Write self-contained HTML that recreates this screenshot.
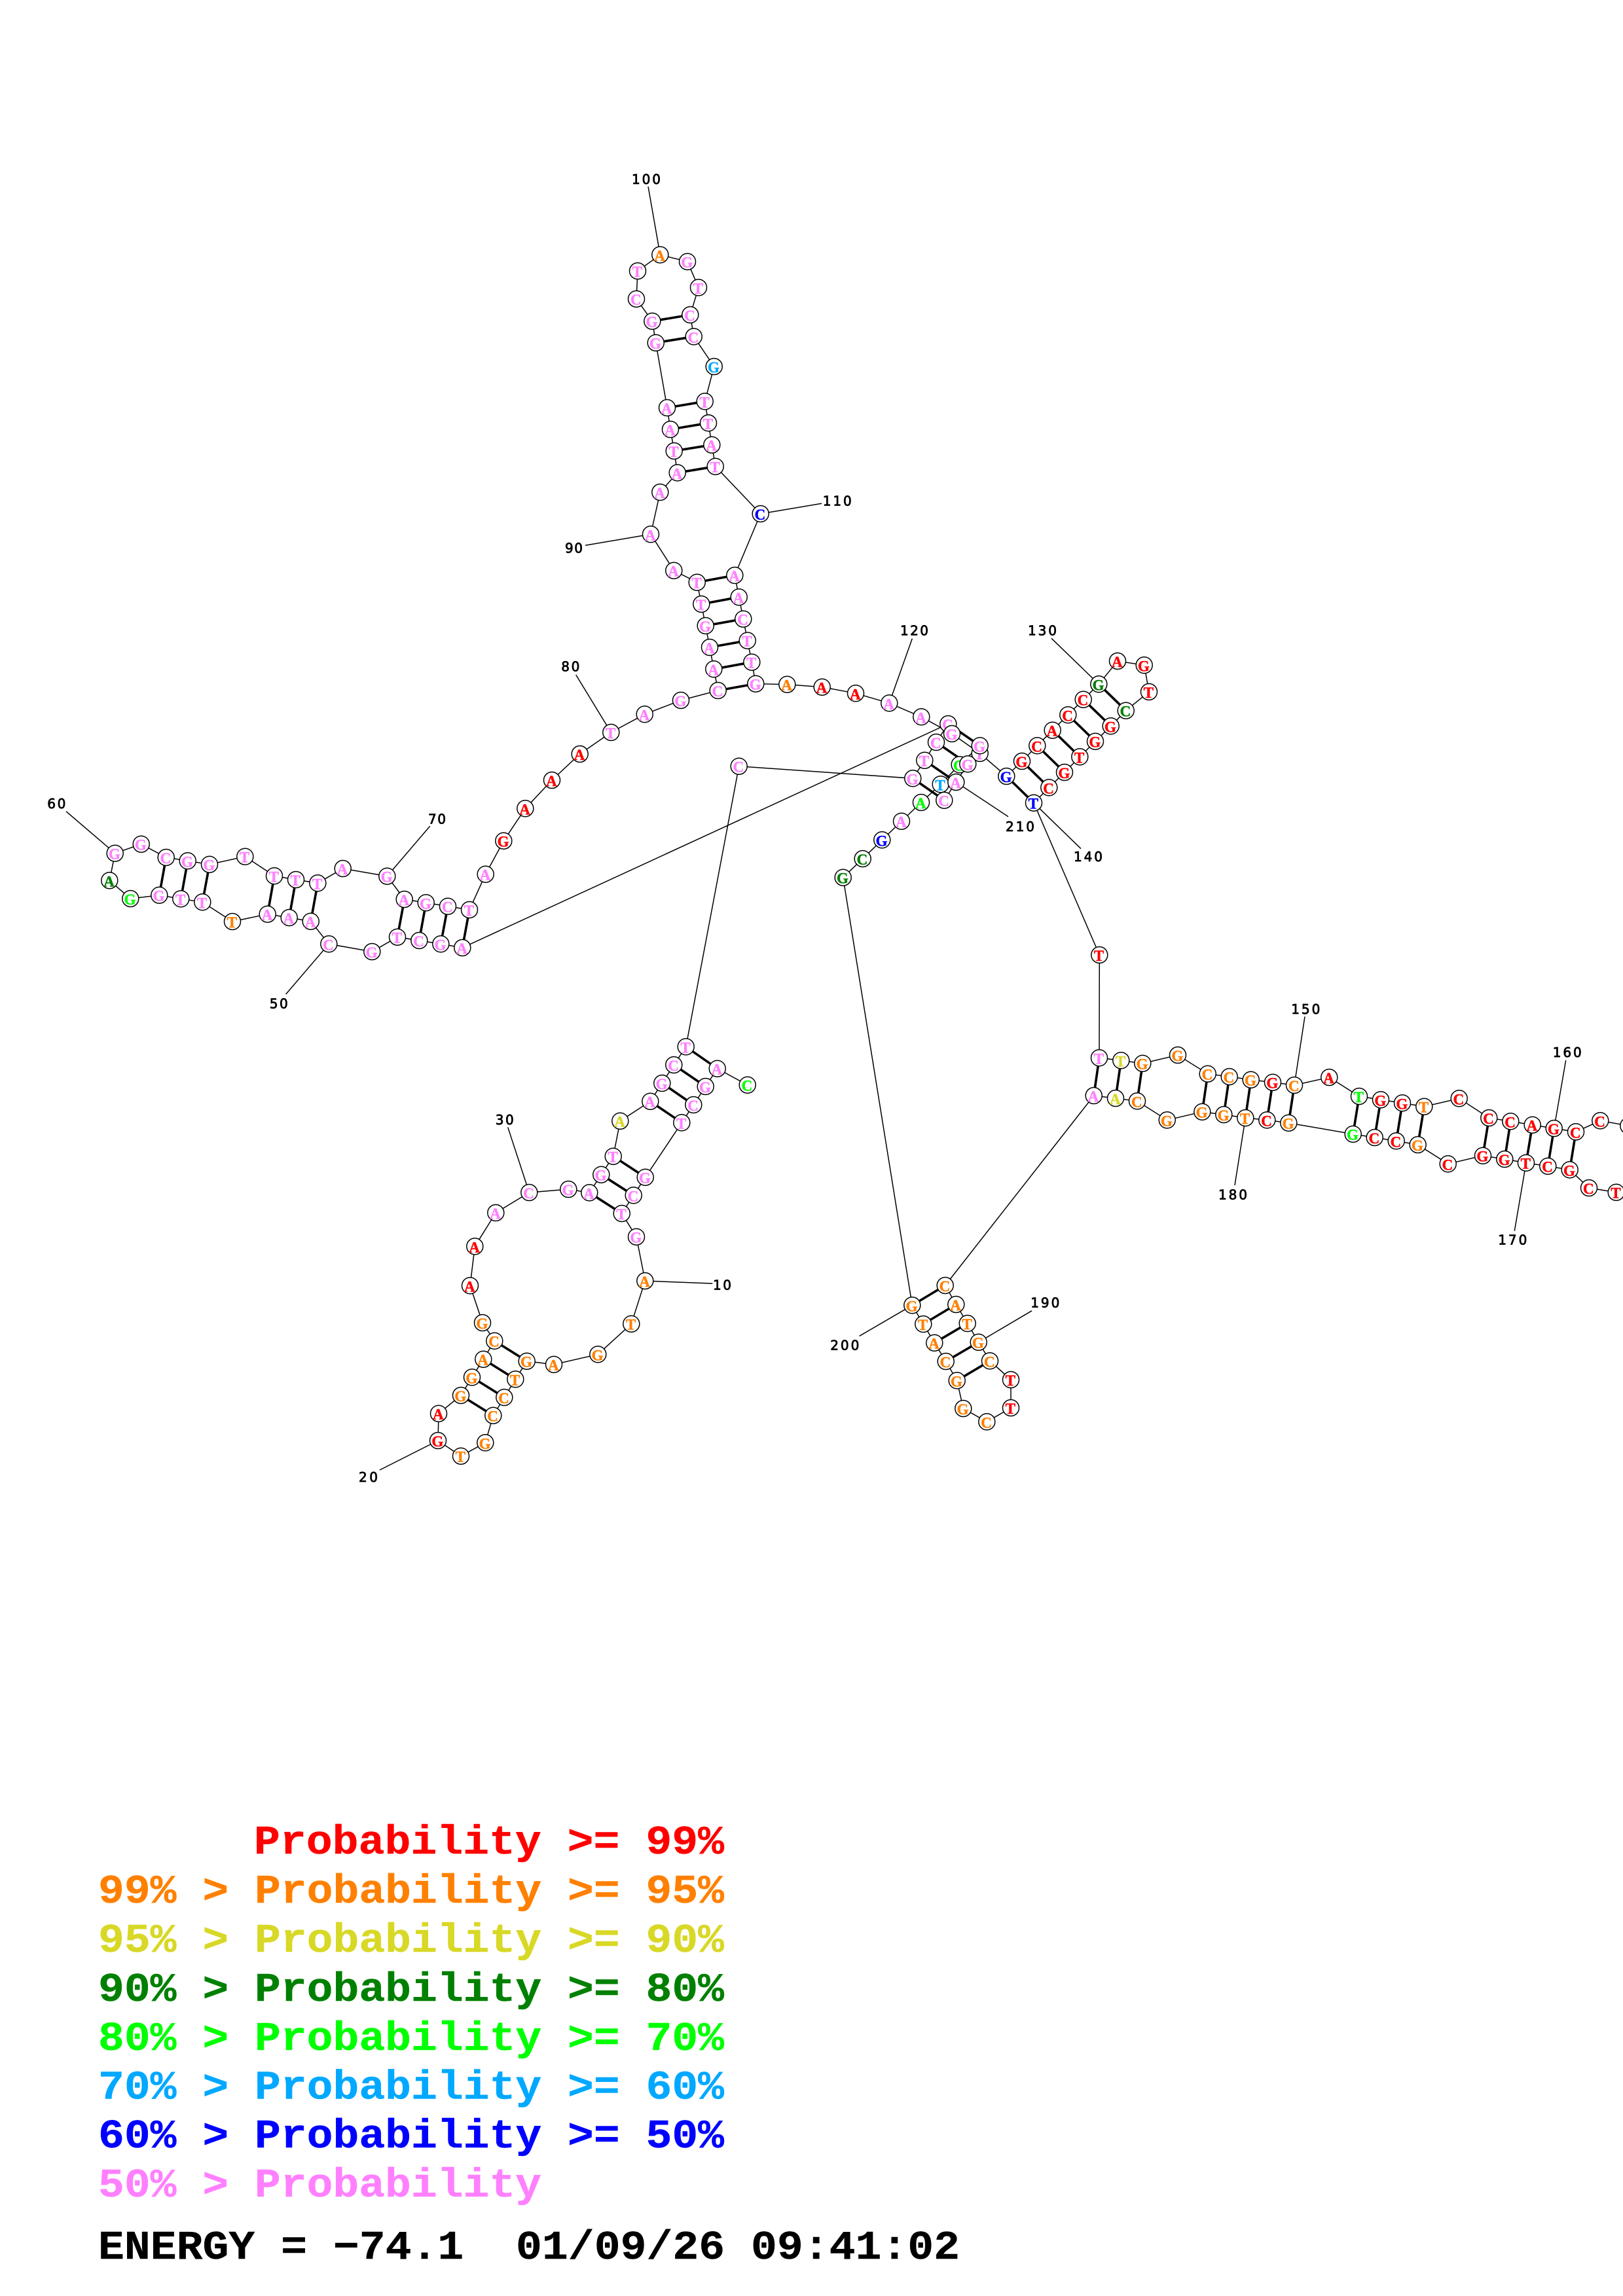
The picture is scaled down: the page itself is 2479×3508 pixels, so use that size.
<!DOCTYPE html>
<html><head><meta charset="utf-8"><style>
html,body{margin:0;padding:0;background:#fff}
svg{display:block}
.chain{fill:none;stroke:#000;stroke-width:1.5}
.pair{fill:none;stroke:#000;stroke-width:3.6}
.n circle{r:12.5px;fill:#fff;stroke:#000;stroke-width:1.5}
.n text{font:bold 23px "Liberation Serif",serif;text-anchor:middle;dominant-baseline:central;transform:translate(-.7px,1.5px);stroke-width:.5}
.lab{font:20px "DejaVu Sans",sans-serif;fill:#000;stroke:#000;stroke-width:.8}
.leg{font:bold 62px "Liberation Mono",monospace;white-space:pre;stroke-width:.4}
.p{fill:#ff80ff;stroke:#ff80ff}.o{fill:#ff8000;stroke:#ff8000}.y{fill:#d8d826;stroke:#d8d826}.d{fill:#008000;stroke:#008000}.g{fill:#00ff00;stroke:#00ff00}.a{fill:#00a8ff;stroke:#00a8ff}.b{fill:#0000ff;stroke:#0000ff}.r{fill:#ff0000;stroke:#ff0000}.k{fill:#000;stroke:#000}
</style></head><body>
<svg xmlns="http://www.w3.org/2000/svg" width="2479" height="3508" viewBox="0 0 2479 3508">
<polyline class="chain" points="1141.7,1657.7 1095.7,1632.7 1077.7,1660 1059.3,1688 1041.3,1715.3 985.7,1798.7 967.7,1826.3 949.7,1854 972,1889.7 985.3,1957 964.3,2022.7 913.3,2069.3 846,2084.7 804.7,2079.7 787.3,2107.3 770.3,2135 753.3,2162.7 741.3,2204.3 704,2224.7 669,2201 670,2159.7 704,2132 721,2104.3 738.3,2076.7 755.3,2048.7 737,2021 718,1964.3 725.3,1904.3 757.3,1853 808.3,1822 868.3,1817 900.3,1822.3 918.3,1794.7 936.7,1766.7 947.3,1712.7 993.3,1682.7 1011.3,1655 1029.3,1627 1047.7,1599.3 1128.7,1170.7 1394.3,1189.3 1412.3,1161.7 1430,1134 1448.3,1106 706.3,1448 673.3,1442.3 640.3,1437 607,1431.7 568.3,1454 502.3,1442.3 474.7,1407.7 441.7,1402 408.7,1396.7 355,1408 309.3,1378.3 276.3,1373.3 243.3,1367.7 199.3,1373 167.3,1345.3 175.7,1303.7 215.7,1289.7 253.7,1310 286.7,1315.3 320,1320.7 374.3,1308.7 419,1338.3 452,1344 485.3,1349.3 523.7,1327 591.3,1338.7 617.7,1374 650.7,1379.3 684,1384.7 717,1390 741.7,1335.7 769.3,1284.7 802.3,1235.3 843,1192 885.7,1152 933.3,1119 984.7,1091.3 1040,1070 1096.7,1055 1090.3,1022.3 1084,989 1077.7,956 1071.3,923 1064.7,889.7 1029.3,871.7 994,816.3 1008.3,752 1034.7,722.3 1029.7,689 1024,656 1019,623 1001.7,523.7 996.3,490.7 972,456.7 974,414 1008.3,389.3 1050,399.7 1067,439.3 1054.3,481 1059.7,514.3 1090.7,560 1076.7,613.3 1082,646.3 1087.3,679.7 1092.7,712.7 1161.7,785 1122.3,879 1128.7,912.3 1135.3,945.7 1141.7,978.7 1148.3,1011.7 1154.3,1044.7 1202.3,1045.7 1255.7,1049.7 1307,1059.3 1358.3,1074.3 1407.3,1095.3 1454,1121 1496.7,1151 1537.3,1186 1561,1163 1584.3,1139.3 1607.7,1115.7 1631.3,1092.3 1654.7,1068.7 1678.3,1045.3 1707,1010 1747.7,1016.3 1755,1057 1719.7,1085.7 1696.7,1109.3 1673,1132.7 1649.3,1156.3 1626,1180 1602.3,1203.3 1579,1226.7 1679.3,1459 1679,1616.3 1712.3,1620.3 1745.3,1624.7 1799,1612 1844.7,1640.7 1877.7,1645 1910.7,1649.7 1944,1653.7 1977,1658 2030.3,1646 2076,1675 2109,1680.3 2142,1685.3 2175.3,1690.7 2228.7,1678.3 2274.3,1708 2307.3,1713.3 2340.7,1718.7 2373.7,1724 2407,1729.3 2444.3,1712.3 2487.3,1720 2530,1780 2468.7,1821.7 2427,1815 2397.7,1787.3 2364.3,1781.7 2331,1776.7 2298.3,1771 2265,1765.7 2211.7,1778.3 2165.7,1749 2132.7,1743.3 2099.7,1738 2066.7,1732.7 1968.3,1715.7 1935.3,1711.3 1902.3,1708 1869.3,1703 1836.3,1698.7 1782.7,1711.3 1737,1682.3 1704,1678 1670.7,1674 1443.7,1964 1460.3,1993 1477.7,2022 1494.7,2050.7 1512,2079.3 1544,2108 1544,2151 1507.3,2172.3 1471.3,2152 1461.7,2109.3 1444.7,2080 1427.3,2051.7 1410.3,2023 1393.3,1994.3 1287.7,1340.7 1317.7,1312 1347.3,1283.3 1377,1254.7 1407,1226 1436.7,1198.3 1465.7,1168.3 1496.7,1139.3 1478.3,1167.3 1460.3,1195 1442.3,1222.7"/>
<path class="chain" d="M985.3,1957L1088.3,1961M669,2201L580,2246M808.3,1822L775.7,1722.3M502.3,1442.3L436.7,1519M175.7,1303.7L101,1239.7M591.3,1338.7L656.7,1262.3M933.3,1119L879.7,1031M994,816.3L894,833.3M1008.3,389.3L990,285M1161.7,785L1255,769.3M1358.3,1074.3L1393.3,975.7M1678.3,1045.3L1606,975.3M1579,1226.7L1651,1296.7M1460.3,1195L1540,1247.7M1977,1658L1993,1553.3M2373.7,1724L2391.7,1620M2331,1776.7L2313.3,1880.7M1902.3,1708L1886,1811M1494.7,2050.7L1576,2002.7M1393.3,1994.3L1312.7,2041.3"/>
<path class="pair" d="M1095.7,1632.7L1047.7,1599.3M1077.7,1660L1029.3,1627M1059.3,1688L1011.3,1655M1041.3,1715.3L993.3,1682.7M985.7,1798.7L936.7,1766.7M967.7,1826.3L918.3,1794.7M949.7,1854L900.3,1822.3M804.7,2079.7L755.3,2048.7M787.3,2107.3L738.3,2076.7M770.3,2135L721,2104.3M753.3,2162.7L704,2132M1394.3,1189.3L1442.3,1222.7M1412.3,1161.7L1460.3,1195M1430,1134L1478.3,1167.3M1448.3,1106L1496.7,1139.3M706.3,1448L717,1390M673.3,1442.3L684,1384.7M640.3,1437L650.7,1379.3M607,1431.7L617.7,1374M474.7,1407.7L485.3,1349.3M441.7,1402L452,1344M408.7,1396.7L419,1338.3M309.3,1378.3L320,1320.7M276.3,1373.3L286.7,1315.3M243.3,1367.7L253.7,1310M1096.7,1055L1154.3,1044.7M1090.3,1022.3L1148.3,1011.7M1084,989L1141.7,978.7M1077.7,956L1135.3,945.7M1071.3,923L1128.7,912.3M1064.7,889.7L1122.3,879M1034.7,722.3L1092.7,712.7M1029.7,689L1087.3,679.7M1024,656L1082,646.3M1019,623L1076.7,613.3M1001.7,523.7L1059.7,514.3M996.3,490.7L1054.3,481M1537.3,1186L1579,1226.7M1561,1163L1602.3,1203.3M1584.3,1139.3L1626,1180M1607.7,1115.7L1649.3,1156.3M1631.3,1092.3L1673,1132.7M1654.7,1068.7L1696.7,1109.3M1678.3,1045.3L1719.7,1085.7M1679,1616.3L1670.7,1674M1712.3,1620.3L1704,1678M1745.3,1624.7L1737,1682.3M1844.7,1640.7L1836.3,1698.7M1877.7,1645L1869.3,1703M1910.7,1649.7L1902.3,1708M1944,1653.7L1935.3,1711.3M1977,1658L1968.3,1715.7M2076,1675L2066.7,1732.7M2109,1680.3L2099.7,1738M2142,1685.3L2132.7,1743.3M2175.3,1690.7L2165.7,1749M2274.3,1708L2265,1765.7M2307.3,1713.3L2298.3,1771M2340.7,1718.7L2331,1776.7M2373.7,1724L2364.3,1781.7M2407,1729.3L2397.7,1787.3M1443.7,1964L1393.3,1994.3M1460.3,1993L1410.3,2023M1477.7,2022L1427.3,2051.7M1494.7,2050.7L1444.7,2080M1512,2079.3L1461.7,2109.3"/>
<g class="n">
<circle cx="1141.7" cy="1657.7"/><text x="1141.7" y="1657.7" class="g">C</text>
<circle cx="1095.7" cy="1632.7"/><text x="1095.7" y="1632.7" class="p">A</text>
<circle cx="1077.7" cy="1660"/><text x="1077.7" y="1660" class="p">G</text>
<circle cx="1059.3" cy="1688"/><text x="1059.3" y="1688" class="p">C</text>
<circle cx="1041.3" cy="1715.3"/><text x="1041.3" y="1715.3" class="p">T</text>
<circle cx="985.7" cy="1798.7"/><text x="985.7" y="1798.7" class="p">G</text>
<circle cx="967.7" cy="1826.3"/><text x="967.7" y="1826.3" class="p">C</text>
<circle cx="949.7" cy="1854"/><text x="949.7" y="1854" class="p">T</text>
<circle cx="972" cy="1889.7"/><text x="972" y="1889.7" class="p">G</text>
<circle cx="985.3" cy="1957"/><text x="985.3" y="1957" class="o">A</text>
<circle cx="964.3" cy="2022.7"/><text x="964.3" y="2022.7" class="o">T</text>
<circle cx="913.3" cy="2069.3"/><text x="913.3" y="2069.3" class="o">G</text>
<circle cx="846" cy="2084.7"/><text x="846" y="2084.7" class="o">A</text>
<circle cx="804.7" cy="2079.7"/><text x="804.7" y="2079.7" class="o">G</text>
<circle cx="787.3" cy="2107.3"/><text x="787.3" y="2107.3" class="o">T</text>
<circle cx="770.3" cy="2135"/><text x="770.3" y="2135" class="o">C</text>
<circle cx="753.3" cy="2162.7"/><text x="753.3" y="2162.7" class="o">C</text>
<circle cx="741.3" cy="2204.3"/><text x="741.3" y="2204.3" class="o">G</text>
<circle cx="704" cy="2224.7"/><text x="704" y="2224.7" class="o">T</text>
<circle cx="669" cy="2201"/><text x="669" y="2201" class="r">G</text>
<circle cx="670" cy="2159.7"/><text x="670" y="2159.7" class="r">A</text>
<circle cx="704" cy="2132"/><text x="704" y="2132" class="o">G</text>
<circle cx="721" cy="2104.3"/><text x="721" y="2104.3" class="o">G</text>
<circle cx="738.3" cy="2076.7"/><text x="738.3" y="2076.7" class="o">A</text>
<circle cx="755.3" cy="2048.7"/><text x="755.3" y="2048.7" class="o">C</text>
<circle cx="737" cy="2021"/><text x="737" y="2021" class="o">G</text>
<circle cx="718" cy="1964.3"/><text x="718" y="1964.3" class="r">A</text>
<circle cx="725.3" cy="1904.3"/><text x="725.3" y="1904.3" class="r">A</text>
<circle cx="757.3" cy="1853"/><text x="757.3" y="1853" class="p">A</text>
<circle cx="808.3" cy="1822"/><text x="808.3" y="1822" class="p">C</text>
<circle cx="868.3" cy="1817"/><text x="868.3" y="1817" class="p">G</text>
<circle cx="900.3" cy="1822.3"/><text x="900.3" y="1822.3" class="p">A</text>
<circle cx="918.3" cy="1794.7"/><text x="918.3" y="1794.7" class="p">G</text>
<circle cx="936.7" cy="1766.7"/><text x="936.7" y="1766.7" class="p">T</text>
<circle cx="947.3" cy="1712.7"/><text x="947.3" y="1712.7" class="y">A</text>
<circle cx="993.3" cy="1682.7"/><text x="993.3" y="1682.7" class="p">A</text>
<circle cx="1011.3" cy="1655"/><text x="1011.3" y="1655" class="p">G</text>
<circle cx="1029.3" cy="1627"/><text x="1029.3" y="1627" class="p">C</text>
<circle cx="1047.7" cy="1599.3"/><text x="1047.7" y="1599.3" class="p">T</text>
<circle cx="1128.7" cy="1170.7"/><text x="1128.7" y="1170.7" class="p">C</text>
<circle cx="1394.3" cy="1189.3"/><text x="1394.3" y="1189.3" class="p">G</text>
<circle cx="1412.3" cy="1161.7"/><text x="1412.3" y="1161.7" class="p">T</text>
<circle cx="1430" cy="1134"/><text x="1430" y="1134" class="p">C</text>
<circle cx="1448.3" cy="1106"/><text x="1448.3" y="1106" class="p">C</text>
<circle cx="706.3" cy="1448"/><text x="706.3" y="1448" class="p">A</text>
<circle cx="673.3" cy="1442.3"/><text x="673.3" y="1442.3" class="p">G</text>
<circle cx="640.3" cy="1437"/><text x="640.3" y="1437" class="p">C</text>
<circle cx="607" cy="1431.7"/><text x="607" y="1431.7" class="p">T</text>
<circle cx="568.3" cy="1454"/><text x="568.3" y="1454" class="p">G</text>
<circle cx="502.3" cy="1442.3"/><text x="502.3" y="1442.3" class="p">C</text>
<circle cx="474.7" cy="1407.7"/><text x="474.7" y="1407.7" class="p">A</text>
<circle cx="441.7" cy="1402"/><text x="441.7" y="1402" class="p">A</text>
<circle cx="408.7" cy="1396.7"/><text x="408.7" y="1396.7" class="p">A</text>
<circle cx="355" cy="1408"/><text x="355" y="1408" class="o">T</text>
<circle cx="309.3" cy="1378.3"/><text x="309.3" y="1378.3" class="p">T</text>
<circle cx="276.3" cy="1373.3"/><text x="276.3" y="1373.3" class="p">T</text>
<circle cx="243.3" cy="1367.7"/><text x="243.3" y="1367.7" class="p">G</text>
<circle cx="199.3" cy="1373"/><text x="199.3" y="1373" class="g">G</text>
<circle cx="167.3" cy="1345.3"/><text x="167.3" y="1345.3" class="d">A</text>
<circle cx="175.7" cy="1303.7"/><text x="175.7" y="1303.7" class="p">G</text>
<circle cx="215.7" cy="1289.7"/><text x="215.7" y="1289.7" class="p">G</text>
<circle cx="253.7" cy="1310"/><text x="253.7" y="1310" class="p">C</text>
<circle cx="286.7" cy="1315.3"/><text x="286.7" y="1315.3" class="p">G</text>
<circle cx="320" cy="1320.7"/><text x="320" y="1320.7" class="p">G</text>
<circle cx="374.3" cy="1308.7"/><text x="374.3" y="1308.7" class="p">T</text>
<circle cx="419" cy="1338.3"/><text x="419" y="1338.3" class="p">T</text>
<circle cx="452" cy="1344"/><text x="452" y="1344" class="p">T</text>
<circle cx="485.3" cy="1349.3"/><text x="485.3" y="1349.3" class="p">T</text>
<circle cx="523.7" cy="1327"/><text x="523.7" y="1327" class="p">A</text>
<circle cx="591.3" cy="1338.7"/><text x="591.3" y="1338.7" class="p">G</text>
<circle cx="617.7" cy="1374"/><text x="617.7" y="1374" class="p">A</text>
<circle cx="650.7" cy="1379.3"/><text x="650.7" y="1379.3" class="p">G</text>
<circle cx="684" cy="1384.7"/><text x="684" y="1384.7" class="p">C</text>
<circle cx="717" cy="1390"/><text x="717" y="1390" class="p">T</text>
<circle cx="741.7" cy="1335.7"/><text x="741.7" y="1335.7" class="p">A</text>
<circle cx="769.3" cy="1284.7"/><text x="769.3" y="1284.7" class="r">G</text>
<circle cx="802.3" cy="1235.3"/><text x="802.3" y="1235.3" class="r">A</text>
<circle cx="843" cy="1192"/><text x="843" y="1192" class="r">A</text>
<circle cx="885.7" cy="1152"/><text x="885.7" y="1152" class="r">A</text>
<circle cx="933.3" cy="1119"/><text x="933.3" y="1119" class="p">T</text>
<circle cx="984.7" cy="1091.3"/><text x="984.7" y="1091.3" class="p">A</text>
<circle cx="1040" cy="1070"/><text x="1040" y="1070" class="p">G</text>
<circle cx="1096.7" cy="1055"/><text x="1096.7" y="1055" class="p">C</text>
<circle cx="1090.3" cy="1022.3"/><text x="1090.3" y="1022.3" class="p">A</text>
<circle cx="1084" cy="989"/><text x="1084" y="989" class="p">A</text>
<circle cx="1077.7" cy="956"/><text x="1077.7" y="956" class="p">G</text>
<circle cx="1071.3" cy="923"/><text x="1071.3" y="923" class="p">T</text>
<circle cx="1064.7" cy="889.7"/><text x="1064.7" y="889.7" class="p">T</text>
<circle cx="1029.3" cy="871.7"/><text x="1029.3" y="871.7" class="p">A</text>
<circle cx="994" cy="816.3"/><text x="994" y="816.3" class="p">A</text>
<circle cx="1008.3" cy="752"/><text x="1008.3" y="752" class="p">A</text>
<circle cx="1034.7" cy="722.3"/><text x="1034.7" y="722.3" class="p">A</text>
<circle cx="1029.7" cy="689"/><text x="1029.7" y="689" class="p">T</text>
<circle cx="1024" cy="656"/><text x="1024" y="656" class="p">A</text>
<circle cx="1019" cy="623"/><text x="1019" y="623" class="p">A</text>
<circle cx="1001.7" cy="523.7"/><text x="1001.7" y="523.7" class="p">G</text>
<circle cx="996.3" cy="490.7"/><text x="996.3" y="490.7" class="p">G</text>
<circle cx="972" cy="456.7"/><text x="972" y="456.7" class="p">C</text>
<circle cx="974" cy="414"/><text x="974" y="414" class="p">T</text>
<circle cx="1008.3" cy="389.3"/><text x="1008.3" y="389.3" class="o">A</text>
<circle cx="1050" cy="399.7"/><text x="1050" y="399.7" class="p">G</text>
<circle cx="1067" cy="439.3"/><text x="1067" y="439.3" class="p">T</text>
<circle cx="1054.3" cy="481"/><text x="1054.3" y="481" class="p">C</text>
<circle cx="1059.7" cy="514.3"/><text x="1059.7" y="514.3" class="p">C</text>
<circle cx="1090.7" cy="560"/><text x="1090.7" y="560" class="a">G</text>
<circle cx="1076.7" cy="613.3"/><text x="1076.7" y="613.3" class="p">T</text>
<circle cx="1082" cy="646.3"/><text x="1082" y="646.3" class="p">T</text>
<circle cx="1087.3" cy="679.7"/><text x="1087.3" y="679.7" class="p">A</text>
<circle cx="1092.7" cy="712.7"/><text x="1092.7" y="712.7" class="p">T</text>
<circle cx="1161.7" cy="785"/><text x="1161.7" y="785" class="b">C</text>
<circle cx="1122.3" cy="879"/><text x="1122.3" y="879" class="p">A</text>
<circle cx="1128.7" cy="912.3"/><text x="1128.7" y="912.3" class="p">A</text>
<circle cx="1135.3" cy="945.7"/><text x="1135.3" y="945.7" class="p">C</text>
<circle cx="1141.7" cy="978.7"/><text x="1141.7" y="978.7" class="p">T</text>
<circle cx="1148.3" cy="1011.7"/><text x="1148.3" y="1011.7" class="p">T</text>
<circle cx="1154.3" cy="1044.7"/><text x="1154.3" y="1044.7" class="p">G</text>
<circle cx="1202.3" cy="1045.7"/><text x="1202.3" y="1045.7" class="o">A</text>
<circle cx="1255.7" cy="1049.7"/><text x="1255.7" y="1049.7" class="r">A</text>
<circle cx="1307" cy="1059.3"/><text x="1307" y="1059.3" class="r">A</text>
<circle cx="1358.3" cy="1074.3"/><text x="1358.3" y="1074.3" class="p">A</text>
<circle cx="1407.3" cy="1095.3"/><text x="1407.3" y="1095.3" class="p">A</text>
<circle cx="1454" cy="1121"/><text x="1454" y="1121" class="p">G</text>
<circle cx="1496.7" cy="1151"/><text x="1496.7" y="1151" class="p">T</text>
<circle cx="1537.3" cy="1186"/><text x="1537.3" y="1186" class="b">G</text>
<circle cx="1561" cy="1163"/><text x="1561" y="1163" class="r">G</text>
<circle cx="1584.3" cy="1139.3"/><text x="1584.3" y="1139.3" class="r">C</text>
<circle cx="1607.7" cy="1115.7"/><text x="1607.7" y="1115.7" class="r">A</text>
<circle cx="1631.3" cy="1092.3"/><text x="1631.3" y="1092.3" class="r">C</text>
<circle cx="1654.7" cy="1068.7"/><text x="1654.7" y="1068.7" class="r">C</text>
<circle cx="1678.3" cy="1045.3"/><text x="1678.3" y="1045.3" class="d">G</text>
<circle cx="1707" cy="1010"/><text x="1707" y="1010" class="r">A</text>
<circle cx="1747.7" cy="1016.3"/><text x="1747.7" y="1016.3" class="r">G</text>
<circle cx="1755" cy="1057"/><text x="1755" y="1057" class="r">T</text>
<circle cx="1719.7" cy="1085.7"/><text x="1719.7" y="1085.7" class="d">C</text>
<circle cx="1696.7" cy="1109.3"/><text x="1696.7" y="1109.3" class="r">G</text>
<circle cx="1673" cy="1132.7"/><text x="1673" y="1132.7" class="r">G</text>
<circle cx="1649.3" cy="1156.3"/><text x="1649.3" y="1156.3" class="r">T</text>
<circle cx="1626" cy="1180"/><text x="1626" y="1180" class="r">G</text>
<circle cx="1602.3" cy="1203.3"/><text x="1602.3" y="1203.3" class="r">C</text>
<circle cx="1579" cy="1226.7"/><text x="1579" y="1226.7" class="b">T</text>
<circle cx="1679.3" cy="1459"/><text x="1679.3" y="1459" class="r">T</text>
<circle cx="1679" cy="1616.3"/><text x="1679" y="1616.3" class="p">T</text>
<circle cx="1712.3" cy="1620.3"/><text x="1712.3" y="1620.3" class="y">T</text>
<circle cx="1745.3" cy="1624.7"/><text x="1745.3" y="1624.7" class="o">G</text>
<circle cx="1799" cy="1612"/><text x="1799" y="1612" class="o">G</text>
<circle cx="1844.7" cy="1640.7"/><text x="1844.7" y="1640.7" class="o">C</text>
<circle cx="1877.7" cy="1645"/><text x="1877.7" y="1645" class="o">C</text>
<circle cx="1910.7" cy="1649.7"/><text x="1910.7" y="1649.7" class="o">G</text>
<circle cx="1944" cy="1653.7"/><text x="1944" y="1653.7" class="r">G</text>
<circle cx="1977" cy="1658"/><text x="1977" y="1658" class="o">C</text>
<circle cx="2030.3" cy="1646"/><text x="2030.3" y="1646" class="r">A</text>
<circle cx="2076" cy="1675"/><text x="2076" y="1675" class="g">T</text>
<circle cx="2109" cy="1680.3"/><text x="2109" y="1680.3" class="r">G</text>
<circle cx="2142" cy="1685.3"/><text x="2142" y="1685.3" class="r">G</text>
<circle cx="2175.3" cy="1690.7"/><text x="2175.3" y="1690.7" class="o">T</text>
<circle cx="2228.7" cy="1678.3"/><text x="2228.7" y="1678.3" class="r">C</text>
<circle cx="2274.3" cy="1708"/><text x="2274.3" y="1708" class="r">C</text>
<circle cx="2307.3" cy="1713.3"/><text x="2307.3" y="1713.3" class="r">C</text>
<circle cx="2340.7" cy="1718.7"/><text x="2340.7" y="1718.7" class="r">A</text>
<circle cx="2373.7" cy="1724"/><text x="2373.7" y="1724" class="r">G</text>
<circle cx="2407" cy="1729.3"/><text x="2407" y="1729.3" class="r">C</text>
<circle cx="2444.3" cy="1712.3"/><text x="2444.3" y="1712.3" class="r">C</text>
<circle cx="2487.3" cy="1720"/><text x="2487.3" y="1720" class="r">C</text>
<circle cx="2468.7" cy="1821.7"/><text x="2468.7" y="1821.7" class="r">T</text>
<circle cx="2427" cy="1815"/><text x="2427" y="1815" class="r">C</text>
<circle cx="2397.7" cy="1787.3"/><text x="2397.7" y="1787.3" class="r">G</text>
<circle cx="2364.3" cy="1781.7"/><text x="2364.3" y="1781.7" class="r">C</text>
<circle cx="2331" cy="1776.7"/><text x="2331" y="1776.7" class="r">T</text>
<circle cx="2298.3" cy="1771"/><text x="2298.3" y="1771" class="r">G</text>
<circle cx="2265" cy="1765.7"/><text x="2265" y="1765.7" class="r">G</text>
<circle cx="2211.7" cy="1778.3"/><text x="2211.7" y="1778.3" class="r">C</text>
<circle cx="2165.7" cy="1749"/><text x="2165.7" y="1749" class="o">G</text>
<circle cx="2132.7" cy="1743.3"/><text x="2132.7" y="1743.3" class="r">C</text>
<circle cx="2099.7" cy="1738"/><text x="2099.7" y="1738" class="r">C</text>
<circle cx="2066.7" cy="1732.7"/><text x="2066.7" y="1732.7" class="g">G</text>
<circle cx="1968.3" cy="1715.7"/><text x="1968.3" y="1715.7" class="o">G</text>
<circle cx="1935.3" cy="1711.3"/><text x="1935.3" y="1711.3" class="r">C</text>
<circle cx="1902.3" cy="1708"/><text x="1902.3" y="1708" class="o">T</text>
<circle cx="1869.3" cy="1703"/><text x="1869.3" y="1703" class="o">G</text>
<circle cx="1836.3" cy="1698.7"/><text x="1836.3" y="1698.7" class="o">G</text>
<circle cx="1782.7" cy="1711.3"/><text x="1782.7" y="1711.3" class="o">G</text>
<circle cx="1737" cy="1682.3"/><text x="1737" y="1682.3" class="o">C</text>
<circle cx="1704" cy="1678"/><text x="1704" y="1678" class="y">A</text>
<circle cx="1670.7" cy="1674"/><text x="1670.7" y="1674" class="p">A</text>
<circle cx="1443.7" cy="1964"/><text x="1443.7" y="1964" class="o">C</text>
<circle cx="1460.3" cy="1993"/><text x="1460.3" y="1993" class="o">A</text>
<circle cx="1477.7" cy="2022"/><text x="1477.7" y="2022" class="o">T</text>
<circle cx="1494.7" cy="2050.7"/><text x="1494.7" y="2050.7" class="o">G</text>
<circle cx="1512" cy="2079.3"/><text x="1512" y="2079.3" class="o">C</text>
<circle cx="1544" cy="2108"/><text x="1544" y="2108" class="r">T</text>
<circle cx="1544" cy="2151"/><text x="1544" y="2151" class="r">T</text>
<circle cx="1507.3" cy="2172.3"/><text x="1507.3" y="2172.3" class="o">C</text>
<circle cx="1471.3" cy="2152"/><text x="1471.3" y="2152" class="o">G</text>
<circle cx="1461.7" cy="2109.3"/><text x="1461.7" y="2109.3" class="o">G</text>
<circle cx="1444.7" cy="2080"/><text x="1444.7" y="2080" class="o">C</text>
<circle cx="1427.3" cy="2051.7"/><text x="1427.3" y="2051.7" class="o">A</text>
<circle cx="1410.3" cy="2023"/><text x="1410.3" y="2023" class="o">T</text>
<circle cx="1393.3" cy="1994.3"/><text x="1393.3" y="1994.3" class="o">G</text>
<circle cx="1287.7" cy="1340.7"/><text x="1287.7" y="1340.7" class="d">G</text>
<circle cx="1317.7" cy="1312"/><text x="1317.7" y="1312" class="d">C</text>
<circle cx="1347.3" cy="1283.3"/><text x="1347.3" y="1283.3" class="b">G</text>
<circle cx="1377" cy="1254.7"/><text x="1377" y="1254.7" class="p">A</text>
<circle cx="1407" cy="1226"/><text x="1407" y="1226" class="g">A</text>
<circle cx="1436.7" cy="1198.3"/><text x="1436.7" y="1198.3" class="a">T</text>
<circle cx="1465.7" cy="1168.3"/><text x="1465.7" y="1168.3" class="g">G</text>
<circle cx="1496.7" cy="1139.3"/><text x="1496.7" y="1139.3" class="p">G</text>
<circle cx="1478.3" cy="1167.3"/><text x="1478.3" y="1167.3" class="p">G</text>
<circle cx="1460.3" cy="1195"/><text x="1460.3" y="1195" class="p">A</text>
<circle cx="1442.3" cy="1222.7"/><text x="1442.3" y="1222.7" class="p">C</text>
</g>
<g class="lab">
<text x="1089" y="1970.7" textLength="28">10</text>
<text x="548" y="2264" textLength="29">20</text>
<text x="756.7" y="1718" textLength="28">30</text>
<text x="411.7" y="1540.7" textLength="28">50</text>
<text x="72.3" y="1235" textLength="28">60</text>
<text x="654" y="1258.3" textLength="27">70</text>
<text x="857.3" y="1025.7" textLength="28">80</text>
<text x="863" y="844.3" textLength="27">90</text>
<text x="965" y="281" textLength="44">100</text>
<text x="1256.7" y="772.7" textLength="44">110</text>
<text x="1375" y="970.7" textLength="43">120</text>
<text x="1570" y="970.7" textLength="44">130</text>
<text x="1640" y="1316" textLength="44">140</text>
<text x="1972.3" y="1549" textLength="44">150</text>
<text x="2371.7" y="1615" textLength="44">160</text>
<text x="2288.3" y="1901.7" textLength="44">170</text>
<text x="1861" y="1832.7" textLength="44">180</text>
<text x="1574.3" y="1997.7" textLength="44">190</text>
<text x="1268.3" y="2062.7" textLength="44">200</text>
<text x="1536" y="1270" textLength="44">210</text>
</g>
<g class="leg">
<text x="388" y="2832" class="r" textLength="718" lengthAdjust="spacingAndGlyphs">Probability &gt;= 99%</text>
<text x="150" y="2907" class="o" textLength="956" lengthAdjust="spacingAndGlyphs">99% &gt; Probability &gt;= 95%</text>
<text x="150" y="2982" class="y" textLength="956" lengthAdjust="spacingAndGlyphs">95% &gt; Probability &gt;= 90%</text>
<text x="150" y="3057" class="d" textLength="956" lengthAdjust="spacingAndGlyphs">90% &gt; Probability &gt;= 80%</text>
<text x="150" y="3132" class="g" textLength="956" lengthAdjust="spacingAndGlyphs">80% &gt; Probability &gt;= 70%</text>
<text x="150" y="3206.5" class="a" textLength="956" lengthAdjust="spacingAndGlyphs">70% &gt; Probability &gt;= 60%</text>
<text x="150" y="3281" class="b" textLength="956" lengthAdjust="spacingAndGlyphs">60% &gt; Probability &gt;= 50%</text>
<text x="150" y="3356" class="p" textLength="677" lengthAdjust="spacingAndGlyphs">50% &gt; Probability</text>
<text x="150" y="3451" class="k" textLength="1316" lengthAdjust="spacingAndGlyphs">ENERGY = −74.1&#160;&#160;01/09/26 09:41:02</text>
</g>
</svg>
</body></html>
